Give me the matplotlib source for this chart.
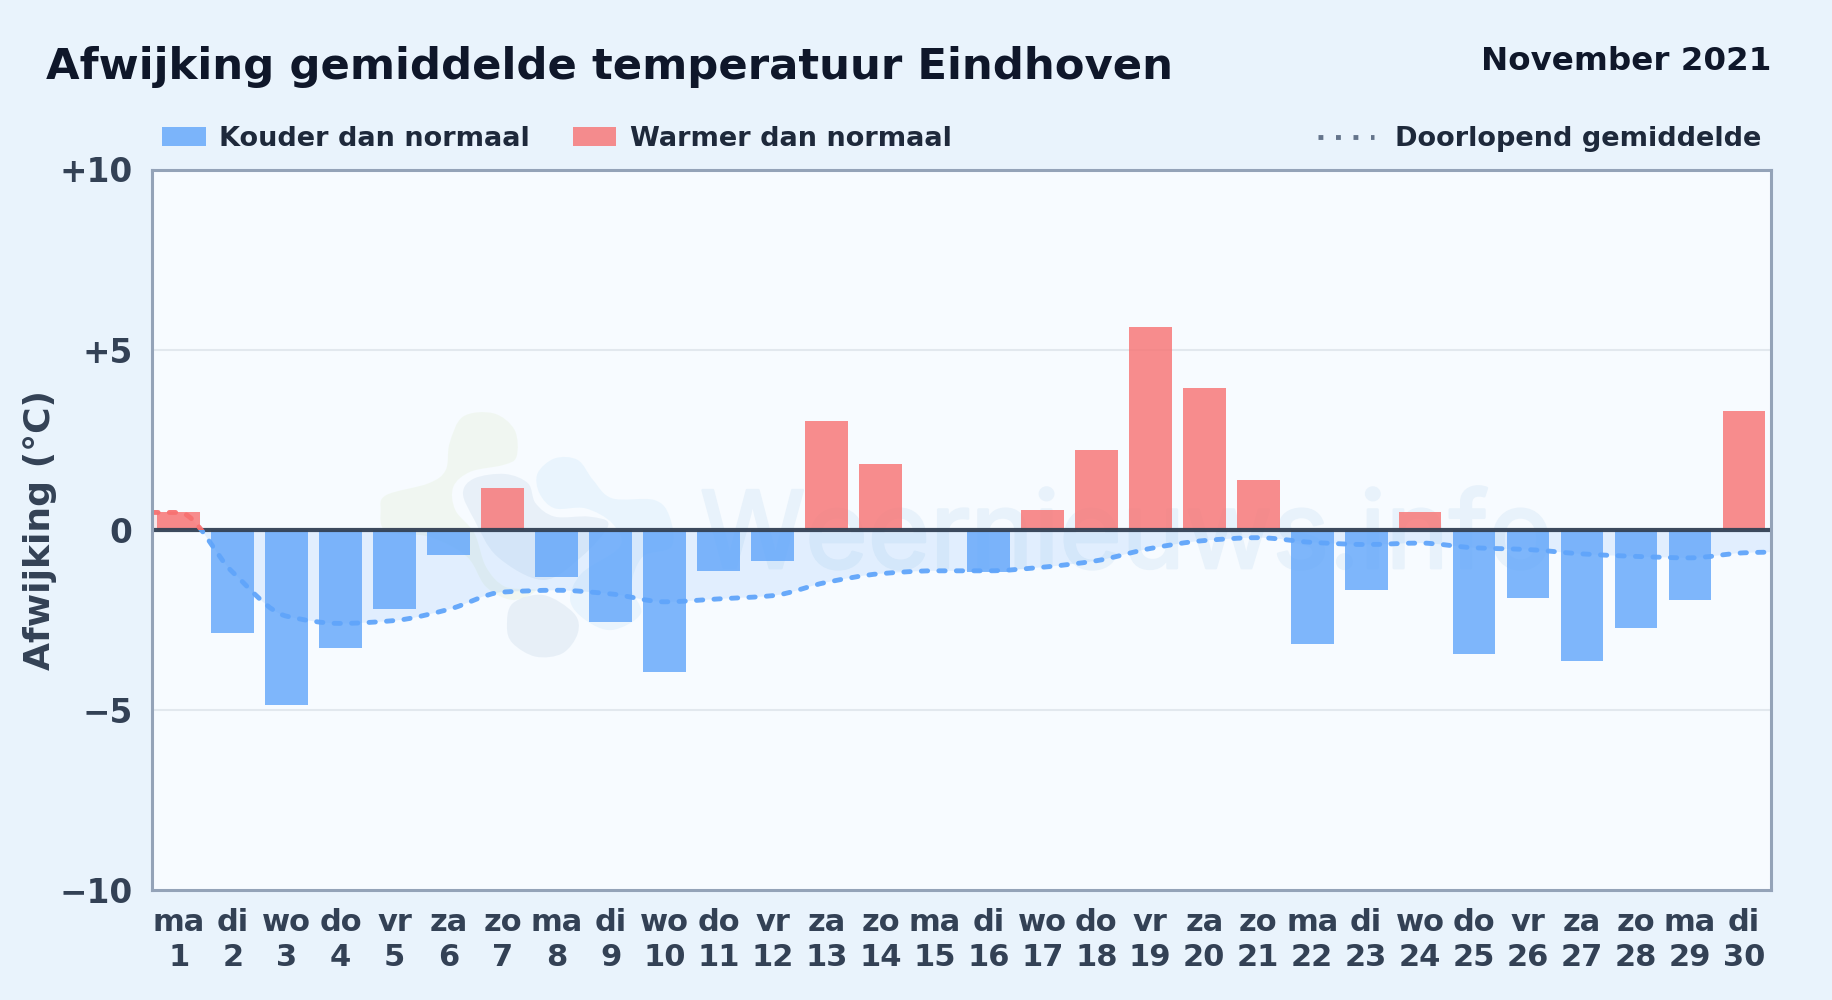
import numpy as np
import matplotlib
matplotlib.use("Agg")
import matplotlib.pyplot as plt
import matplotlib.patheffects as pe
from matplotlib.path import Path
from matplotlib.patches import PathPatch, Rectangle
from matplotlib.lines import Line2D

W, H = 1832, 1000
weekdays = ["ma","di","wo","do","vr","za","zo"] * 4 + ["ma","di"]
days = list(range(1, 31))
anomaly = [0.48,-2.86,-4.86,-3.27,-2.2,-0.7,1.15,-1.3,-2.55,-3.96,-1.15,-0.87,3.02,1.82,0.0,
           -1.17,0.55,2.2,5.62,3.94,1.37,-3.17,-1.67,0.48,-3.45,-1.9,-3.65,-2.72,-1.95,3.3]
mean_x = [0.5] + days + [30.5]
mean_y = [0.48,0.48,-1.18,-2.4,-2.6,-2.52,-2.21,-1.73,-1.68,-1.78,-2.0,-1.92,-1.83,-1.46,-1.22,-1.14,
          -1.14,-1.04,-0.86,-0.52,-0.3,-0.22,-0.35,-0.41,-0.37,-0.5,-0.55,-0.67,-0.74,-0.78,-0.64,-0.62]
yticks = [-10,-5,0,5,10]
yticklabels = ["\u221210","\u22125","0","+5","+10"]

BG = "#e9f3fc"; PLOT = "#f7fbff"; BLUE = "#60a5fa"; RED = "#f87171"

plt.rcParams["font.family"] = "DejaVu Sans"
plt.rcParams["font.weight"] = "bold"
fig = plt.figure(figsize=(W/100, H/100), dpi=100, facecolor=BG)
ax = fig.add_axes([151.8/W, 1-890/H, (1771-151.8)/W, (890-169.5)/H], facecolor=PLOT)
ax.set_xlim(0.5, 30.5); ax.set_ylim(-10, 10)

def px(x, y):
    return (x/W, 1-y/H)

def smooth_path(x, y):
    x = np.asarray(x, float); y = np.asarray(y, float)
    h = np.diff(x); s = np.diff(y)/h
    m = np.zeros_like(y)
    for i in range(1, len(y)-1):
        m[i] = 0 if s[i-1]*s[i] <= 0 else 2*s[i-1]*s[i]/(s[i-1]+s[i])
    m[0] = s[0]; m[-1] = s[-1]
    verts = [(x[0], y[0])]; codes = [Path.MOVETO]
    for i in range(len(h)):
        verts += [(x[i]+h[i]/3, y[i]+m[i]*h[i]/3), (x[i+1]-h[i]/3, y[i+1]-m[i+1]*h[i]/3), (x[i+1], y[i+1])]
        codes += [Path.CURVE4]*3
    return verts, codes

def blob(points, color, alpha):
    p = np.array(points, float); n = len(p)
    verts = [tuple(p[0])]; codes = [Path.MOVETO]
    for i in range(n):
        p0, p1, p2, p3 = p[i-1], p[i], p[(i+1)%n], p[(i+2)%n]
        verts += [tuple(p1+(p2-p0)/6), tuple(p2-(p3-p1)/6), tuple(p2)]
        codes += [Path.CURVE4]*3
    pts = [px(a, b) for a, b in verts]
    ax.add_patch(PathPatch(Path(pts, codes), transform=fig.transFigure, fc=color, ec="none", alpha=alpha, zorder=1))

def z2(pts):
    return [(130+a/2.613, 400+b/3) for a, b in pts]

blob(z2([(655,330),(670,285),(780,250),(825,210),(835,130),(870,50),(950,40),(1005,90),(1010,170),(975,195),
         (890,215),(845,260),(850,330),(900,400),(930,500),(980,560),(1060,570),(1000,600),(930,560),(880,470),(780,410),(670,395)]),
     "#c4dc96", 0.13)
blob(z2([(1065,220),(1110,175),(1170,180),(1210,240),(1260,295),(1370,300),(1410,350),(1415,440),(1340,470),(1310,560),
         (1335,640),(1260,690),(1190,660),(1150,600),(1180,520),(1280,440),(1260,370),(1190,325),(1110,325),(1070,280)]),
     "#8ccaf5", 0.13)
blob(z2([(870,280),(900,235),(980,222),(1040,250),(1060,310),(1110,350),(1200,350),(1250,375),(1180,470),(1080,540),(960,470),(900,360)]),
     "#7fa5c8", 0.12)
blob(z2([(985,680),(1000,610),(1080,585),(1160,640),(1170,700),(1130,760),(1060,770),(1000,730)]),
     "#7fa5c8", 0.13)
ax.text(700/W, 1-568/H, "Weernieuws.info", transform=fig.transFigure, fontsize=77, fontweight="normal",
        family="Inter", color="#e8f2fb", ha="left", va="baseline", zorder=1,
        path_effects=[pe.withStroke(linewidth=2, foreground="#e8f2fb")])

for y in [-5, 5]:
    ax.axhline(y, color="#e2e8ee", lw=1.5, zorder=0.5)

verts, codes = smooth_path(mean_x, mean_y)
curve = Path(verts, codes)
fv = verts + [(mean_x[-1], 0), (mean_x[0], 0), (mean_x[0], mean_y[0])]
fc = codes + [Path.LINETO, Path.LINETO, Path.LINETO]
for color, lo, hi in [(BLUE, -10, 0), (RED, 0, 10)]:
    clip = Rectangle((0.5, lo), 30, hi-lo, transform=ax.transData)
    f = PathPatch(Path(fv, fc), fc=color, ec="none", alpha=0.14, zorder=1.5)
    ax.add_patch(f); f.set_clip_path(clip)

colors = [BLUE if v < 0 else RED for v in anomaly]
ax.bar(days, anomaly, width=0.79, color=colors, alpha=0.8, zorder=2, lw=0)

for color, lo, hi in [(BLUE, -10, 0), (RED, 0, 10)]:
    clip = Rectangle((0.5, lo), 30, hi-lo, transform=ax.transData)
    l = PathPatch(curve, fc="none", ec=color, lw=3.5, ls=(0, (1.3, 2.3)), capstyle="round", joinstyle="round", alpha=0.95, zorder=3.5)
    ax.add_patch(l); l.set_clip_path(clip)

ax.axhline(0, color="#334155", lw=3, alpha=0.95, zorder=3)

for s in ax.spines.values():
    s.set_color("#94a3b8"); s.set_linewidth(2.2); s.set_zorder(5)

ax.set_yticks(yticks); ax.set_yticklabels(yticklabels, fontsize=23.6, color="#334155", fontweight="bold")
ax.set_xticks(days); ax.set_xticklabels([f"{d}\n{n}" for d, n in zip(weekdays, days)], fontsize=22, color="#334155", fontweight="bold", linespacing=1.28)
ax.tick_params(axis="y", length=0, pad=14)
ax.tick_params(axis="x", length=0, pad=13)
fig.text(*px(40, 530), "Afwijking (\u00b0C)", rotation=90, fontsize=26, color="#334155", ha="center", va="center")

fig.text(*px(46, 67), "Afwijking gemiddelde temperatuur Eindhoven", fontsize=31.25, color="#0f172a", ha="left", va="center")
fig.text(*px(1771, 61), "November 2021", fontsize=23.4, color="#0f172a", ha="right", va="center")

fig.add_artist(Rectangle(px(162, 146), 44/W, 19/H, transform=fig.transFigure, fc=BLUE, alpha=0.8, ec="none"))
fig.add_artist(Rectangle(px(573, 146), 43/W, 19/H, transform=fig.transFigure, fc=RED, alpha=0.8, ec="none"))
fig.text(*px(219, 139), "Kouder dan normaal", fontsize=19.55, color="#1e293b", ha="left", va="center")
fig.text(*px(630, 139), "Warmer dan normaal", fontsize=19.55, color="#1e293b", ha="left", va="center")
fig.add_artist(Line2D([1318/W, 1374/W], [1-137/H]*2, transform=fig.transFigure, color="#64748b", lw=3.5, ls=(0, (1, 2.6)), dash_capstyle="butt"))
fig.text(*px(1395, 139), "Doorlopend gemiddelde", fontsize=19.55, color="#1e293b", ha="left", va="center")

fig.savefig("out.png", dpi=100, facecolor=BG)
